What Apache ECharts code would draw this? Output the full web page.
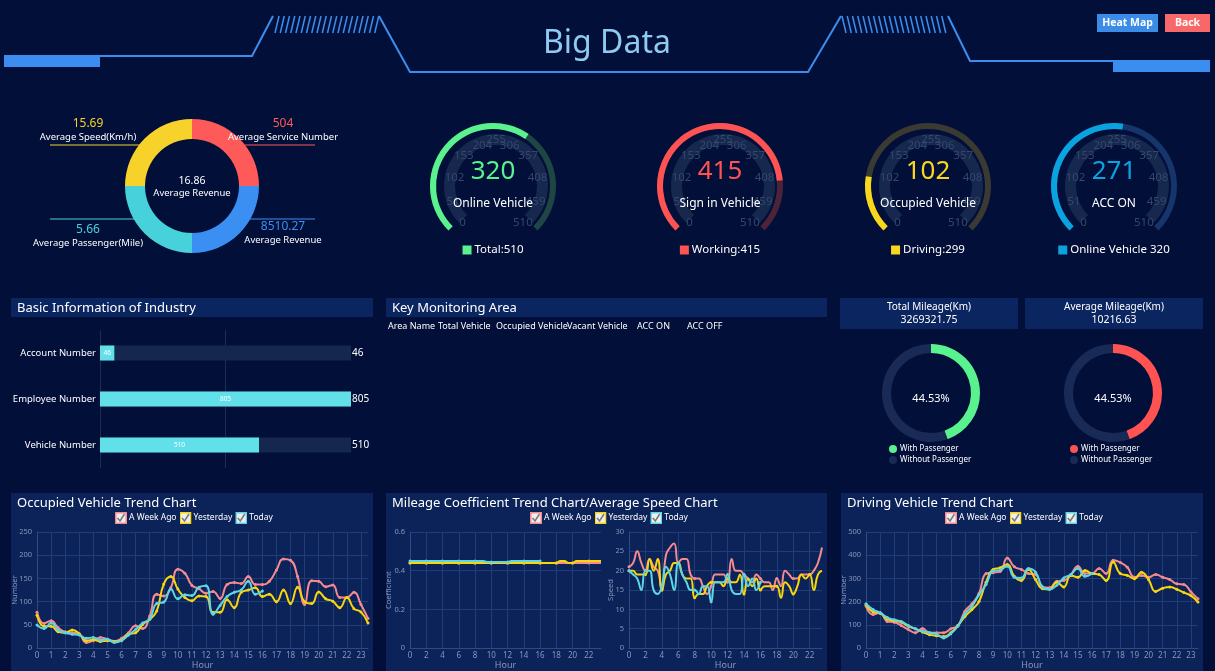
<!DOCTYPE html>
<html>
<head>
<meta charset="utf-8">
<title>Big Data</title>
<script src="https://cdn.jsdelivr.net/npm/echarts@6/dist/echarts.min.js"></script>
<style>
html, body { margin: 0; padding: 0; background: #020f38; }
#main { width: 1215px; height: 671px; }
</style>
</head>
<body>
<div id="main"></div>
<script>
// ---- summary ring (top left)
var summaryNames = ['Average Service Number', 'Average Revenue', 'Average Passenger(Mile)', 'Average Speed(Km/h)'];
var summaryValues = [504, 8510.27, 5.66, 15.69];
var summaryShares = [1, 1, 1, 1];
var centerValue = 16.86;
var centerName = 'Average Revenue';

// ---- gauges
var gaugeNames = ['Online Vehicle', 'Sign in Vehicle', 'Occupied Vehicle', 'ACC ON'];
var gaugeValues = [320, 415, 102, 271];
var gaugeMax = 510;
var gaugeLegends = ['Total:510', 'Working:415', 'Driving:299', 'Online Vehicle 320'];

// ---- basic information of industry
var industryNames = ['Account Number', 'Employee Number', 'Vehicle Number'];
var industryValues = [46, 805, 510];

// ---- key monitoring area
var monitorColumns = ['Area Name', 'Total Vehicle', 'Occupied Vehicle', 'Vacant Vehicle', 'ACC ON', 'ACC OFF'];

// ---- mileage
var mileageTitles = ['Total Mileage(Km)', 'Average Mileage(Km)'];
var mileageValues = ['3269321.75', '10216.63'];
var passengerRates = [44.53, 44.53];
var passengerNames = ['With Passenger', 'Without Passenger'];

// ---- trends
var hours = ['0','0.5','1','1.5','2','2.5','3','3.5','4','4.5','5','5.5','6','6.5','7','7.5','8','8.5','9','9.5',
  '10','10.5','11','11.5','12','12.5','13','13.5','14','14.5','15','15.5','16','16.5','17','17.5','18','18.5','19','19.5',
  '20','20.5','21','21.5','22','22.5','23','23.5'];
var trendNames = ['A Week Ago', 'Yesterday', 'Today'];

var occWeek = [77,53,59,44,35,33,30,12,16,23,19,15,21,33,48,42,69,116,112,130,170,161,135,128,118,122,107,137,141,139,154,137,137,144,168,192,189,154,94,145,144,132,136,109,109,120,94,64];
var occYesterday = [71,47,47,35,33,39,31,16,18,14,16,14,17,30,33,51,62,80,138,154,127,109,102,112,111,77,77,104,87,120,125,130,111,116,100,125,96,131,100,96,121,106,101,87,109,85,78,54];
var occToday = [50,42,54,39,33,30,28,21,23,17,19,12,16,28,40,54,62,96,99,127,106,115,113,131,134,73,92,111,120,125,144,116,123];

var coefWeek = [0.44,0.44,0.44,0.44,0.44,0.44,0.44,0.44,0.44,0.44,0.44,0.44,0.44,0.44,0.44,0.44,0.44,0.44,0.44,0.44,0.44,0.44,0.44,0.44,
  0.44,0.44,0.44,0.44,0.44,0.44,0.44,0.44,0.44,0.44,0.44,0.44,0.44,0.44,0.44,0.44,0.44,0.44,0.44,0.44,0.44,0.44,0.44,0.44];
var coefYesterday = [0.44,0.44,0.44,0.44,0.44,0.44,0.44,0.44,0.44,0.44,0.44,0.44,0.44,0.44,0.44,0.44,0.44,0.44,0.44,0.44,0.44,0.44,0.44,0.44,
  0.44,0.44,0.44,0.44,0.44,0.44,0.44,0.44,0.44,0.44,0.44,0.44,0.44,0.45,0.45,0.44,0.44,0.45,0.45,0.45,0.45,0.45,0.45,0.45];
var coefToday = [0.45,0.45,0.45,0.45,0.45,0.45,0.45,0.45,0.45,0.45,0.45,0.45,0.45,0.45,0.45,0.45,0.45,0.45,0.45,0.445,0.445,0.445,0.445,0.445,
  0.445,0.45,0.45,0.45,0.45,0.45,0.45,0.45,0.45];

var spdWeek = [21,22,25,22,20,23,21,20,15,24,26,27,22,23,23,19,18,18,16,14,16,19,19,19,17,23,20,20,19,18,17,19,18,17,17,15,18,16,20,19,18,18,19,19,19,20,22,26];
var spdYesterday = [20,20,19,19,19,23,20,23,15,19,20,22,22,19,18,18,13,14,14,16,17,17,17,16,18,17,17,19,14,18,16,18,15,16,16,16,16,13,17,16,14,16,19,18,19,15,19,20];
var spdToday = [20,19,18,15,20,20,15,14,16,21,19,15,22,19,17,15,15,14,16,16,12,17,17,17,19,15,14,14,19,16,18,15,17];

var drvWeek = [181,145,152,115,111,97,80,66,84,66,66,66,83,97,159,191,235,321,325,330,388,350,339,321,317,263,260,288,291,317,353,321,321,343,321,378,369,348,305,313,305,317,305,295,277,274,242,212];
var drvYesterday = [188,156,150,125,118,111,94,83,69,58,53,50,66,97,136,166,201,284,339,346,360,309,291,339,295,256,253,284,263,313,305,334,321,317,291,371,321,313,299,327,295,244,258,263,253,239,226,198];
var drvToday = [191,166,152,132,122,115,97,83,73,66,60,44,62,94,147,180,230,274,332,337,353,305,302,343,327,263,253,271,302,317,343,309,321];

// ---- colours
var summaryColors = ['#ff5a5a', '#3b8ff3', '#47d1da', '#f7d22a'];
var gaugeColors = ['#5af28e', '#ff5353', '#f9d71c', '#0aa3e0'];
var gaugeDim = ['#1e4744', '#4c2339', '#3a3a33', '#15356b'];
var trendColors = ['#f58a91', '#f7d60e', '#5ed6e3'];
var ringColors = ['#5af28e', '#ff5353'];
var lineBlue = '#3b8ef0';
var font = '"Noto Sans", sans-serif';

var chart = echarts.init(document.getElementById('main'));
var graphic = [];

function txt(x, y, text, size, color, align, weight) {
  graphic.push({
    type: 'text', x: x, y: y, z: 5,
    style: { text: text, fill: color || '#fff', fontSize: size, fontFamily: font,
      fontWeight: weight || 'normal', align: align || 'left', verticalAlign: 'middle' }
  });
}
function box(x, y, w, h, fill) {
  graphic.push({ type: 'rect', z: -10, shape: { x: x, y: y, width: w, height: h }, style: { fill: fill } });
}
function seg(points, color, width) {
  graphic.push({ type: 'polyline', z: -5, shape: { points: points }, style: { stroke: color, lineWidth: width, fill: null } });
}

// header decoration
box(4, 55, 96, 12, lineBlue);
box(1113, 60, 97, 12, lineBlue);
seg([[100, 56], [252, 56], [273, 16]], lineBlue, 2);
seg([[379, 16], [410, 72], [808, 72], [841, 16]], lineBlue, 2);
seg([[948, 16], [970, 61], [1113, 61]], lineBlue, 2);
for (var i = 0; i < 20; i++) {
  seg([[275 + i * 5.25, 33], [279 + i * 5.25, 16]], lineBlue, 1.5);
  seg([[842 + i * 5.25, 16], [846 + i * 5.25, 33]], lineBlue, 1.5);
}
txt(607, 44, 'Big Data', 32, '#8fcaf2', 'center');
box(1097, 14, 61, 18, '#3a8ce6');
box(1165, 14, 45, 18, '#f86868');
txt(1127.5, 23, 'Heat Map', 10.5, '#fff', 'center', 'bold');
txt(1187.5, 23, 'Back', 10.5, '#fff', 'center', 'bold');

// summary ring labels
var summaryLabelPos = [[283, 124], [283, 227], [88, 230], [88, 124]];
var summaryLinePos = [[[245, 145], [315, 145]], [[248, 219], [315, 219]], [[50, 219], [136, 219]], [[50, 145], [140, 145]]];
summaryNames.forEach(function (n, k) {
  var p = summaryLabelPos[k];
  txt(p[0], p[1], String(summaryValues[k]), 12, summaryColors[k], 'center');
  txt(p[0], p[1] + 13, n, 9.5, '#fff', 'center');
  seg(summaryLinePos[k], summaryColors[k], 1);
});
txt(192, 181, String(centerValue), 10.5, '#fff', 'center');
txt(192, 193, centerName, 9.5, '#fff', 'center');

// gauge legends
var gaugeX = [493, 720, 928, 1114];
gaugeLegends.forEach(function (t, k) {
  graphic.push({
    type: 'text', x: gaugeX[k], y: 250, z: 5,
    style: {
      text: '{sq|}' + ' ' + t, fill: '#fff', fontSize: 11.5, fontFamily: font, align: 'center', verticalAlign: 'middle',
      rich: { sq: { width: 9, height: 9, backgroundColor: gaugeColors[k] } }
    }
  });
});

// middle panels
box(11, 298, 362, 19, '#0b2560');
box(386, 298, 441, 19, '#0b2560');
txt(17, 308, 'Basic Information of Industry', 13, '#fff');
txt(392, 308, 'Key Monitoring Area', 13, '#fff');
var monitorX = [388, 438, 496, 567, 637, 687];
monitorColumns.forEach(function (c, k) { txt(monitorX[k], 326, c, 9, '#fff'); });

var mileageX = [840, 1025];
mileageTitles.forEach(function (t, k) {
  box(mileageX[k], 298, 178, 31, '#0b2560');
  txt(mileageX[k] + 89, 307, t, 10, '#fff', 'center');
  txt(mileageX[k] + 89, 320, mileageValues[k], 10.5, '#fff', 'center');
});
var ringX = [931, 1113];
passengerRates.forEach(function (r, k) { txt(ringX[k], 399, r.toFixed(2) + '%', 11, '#fff', 'center'); });

// bottom panels
box(11, 493, 362, 178, '#0c2359');
box(386, 493, 441, 178, '#0c2359');
box(841, 493, 362, 178, '#0c2359');
txt(17, 503, 'Occupied Vehicle Trend Chart', 13, '#fff');
txt(392, 503, 'Mileage Coefficient Trend Chart/Average Speed Chart', 13, '#fff');
txt(847, 503, 'Driving Vehicle Trend Chart', 13, '#fff');

function checkIcon(color) {
  var svg = "<svg xmlns='http://www.w3.org/2000/svg' width='24' height='24' viewBox='0 0 24 24'>" +
    "<rect x='1.5' y='1.5' width='21' height='21' fill='#eeeeee' stroke='" + color + "' stroke-width='3'/>" +
    "<path d='M5 12 L10 18 L19 4' fill='none' stroke='#7a7a7a' stroke-width='3'/></svg>";
  return 'image://data:image/svg+xml;charset=utf-8,' + encodeURIComponent(svg);
}
function trendLegend(left) {
  return {
    left: left, top: 512, itemWidth: 12, itemHeight: 12, itemGap: 3, padding: 0,
    textStyle: { color: '#fff', fontSize: 8.5, fontFamily: font, padding: [0, 0, 0, -3] },
    data: trendNames.map(function (n, k) { return { name: n, icon: checkIcon(trendColors[k]) }; })
  };
}
function ringLegend(left, suffix) {
  return {
    orient: 'vertical', left: left, top: 445, icon: 'circle', itemWidth: 8, itemHeight: 8, itemGap: 3, padding: 0,
    textStyle: { color: '#fff', fontSize: 8, fontFamily: font, padding: [0, 0, 0, -2] },
    formatter: function (n) { return n.trim(); },
    data: passengerNames.map(function (n) { return n + suffix; })
  };
}

var axisGray = '#8796bb';
var gridLine = '#213d78';
function hourAxis(gi, interval) {
  return {
    type: 'category', gridIndex: gi, data: hours, boundaryGap: false,
    name: 'Hour', nameLocation: 'middle', nameGap: 11, nameTextStyle: { color: axisGray, fontSize: 9 },
    axisLine: { lineStyle: { color: '#2e4a86' } }, axisTick: { show: false },
    axisLabel: { color: axisGray, fontSize: 8, interval: interval, margin: 4 },
    splitLine: { show: true, interval: interval, lineStyle: { color: gridLine } }
  };
}
function valueAxis(gi, name, max, interval, gap) {
  return {
    type: 'value', gridIndex: gi, min: 0, max: max, interval: interval,
    name: name, nameLocation: 'middle', nameGap: gap, nameRotate: 90, nameMoveOverlap: false,
    nameTextStyle: { color: axisGray, fontSize: 7.5 },
    axisLine: { show: true, lineStyle: { color: '#2e4a86' } }, axisTick: { show: false },
    axisLabel: { color: axisGray, fontSize: 7.5, margin: 5 },
    splitLine: { lineStyle: { color: gridLine } }
  };
}
function trend(name, data, k, gi) {
  return {
    type: 'line', name: name, data: data, xAxisIndex: gi, yAxisIndex: gi, smooth: true,
    symbol: 'circle', symbolSize: 3, lineStyle: { width: 2, color: trendColors[k] },
    itemStyle: { color: trendColors[k] }, z: 3 + k
  };
}

var series = [];

// summary pie
series.push({
  type: 'pie', center: [192, 186], radius: [47, 67], startAngle: 90, clockwise: true, silent: true,
  label: { show: false }, labelLine: { show: false },
  data: summaryShares.map(function (v, k) {
    return { value: v, name: summaryNames[k] + k, itemStyle: { color: summaryColors[k] } };
  })
});

// gauges
gaugeValues.forEach(function (v, k) {
  series.push({
    type: 'gauge', center: [gaugeX[k] + 3, 186], radius: 52, startAngle: 225, endAngle: -45,
    min: 0, max: gaugeMax, splitNumber: 10, silent: true,
    axisLine: { lineStyle: { width: 11, color: [[1, '#16284e']] } },
    pointer: { show: false }, axisTick: { show: false },
    splitLine: { show: false, length: 0, distance: 0 },
    axisLabel: { distance: 0, color: '#34486f', fontSize: 11.5, fontFamily: font },
    title: { show: false }, detail: { show: false }, data: [{ value: 0 }]
  });
  series.push({
    type: 'gauge', center: [gaugeX[k], 186], radius: 63, startAngle: 225, endAngle: -45,
    min: 0, max: gaugeMax, silent: true,
    axisLine: { lineStyle: { width: 6, color: [[1, gaugeDim[k]]] } },
    progress: { show: true, width: 6, itemStyle: { color: gaugeColors[k] } },
    pointer: { show: false }, axisTick: { show: false }, splitLine: { show: false }, axisLabel: { show: false },
    title: { offsetCenter: [0, 18], color: '#fff', fontSize: 12, fontFamily: font },
    detail: { offsetCenter: [0, -14], color: gaugeColors[k], fontSize: 26, fontWeight: 'normal', fontFamily: font, formatter: '{value}' },
    data: [{ value: v, name: gaugeNames[k] }]
  });
});

// industry bars
var industryMax = Math.max.apply(null, industryValues);
series.push({
  type: 'bar', xAxisIndex: 0, yAxisIndex: 0, barWidth: 15, barGap: '-100%', silent: true,
  itemStyle: { color: '#15264f' },
  label: { show: true, position: 'right', distance: 1, color: '#fff', fontSize: 10, fontFamily: font,
    formatter: function (p) { return industryValues[p.dataIndex]; } },
  data: industryValues.map(function () { return industryMax; })
});
series.push({
  type: 'bar', xAxisIndex: 0, yAxisIndex: 0, barWidth: 15, barGap: '-100%', silent: true,
  itemStyle: { color: '#62e0ea' },
  label: { show: true, position: 'inside', color: '#fff', fontSize: 6.5, fontFamily: font },
  data: industryValues
});

// passenger rings
passengerRates.forEach(function (r, k) {
  var suffix = k === 0 ? '' : ' ';
  series.push({
    type: 'pie', center: [ringX[k], 393], radius: [40, 49], startAngle: 90, clockwise: true, silent: true,
    label: { show: false }, labelLine: { show: false },
    data: [
      { value: r, name: passengerNames[0] + suffix, itemStyle: { color: ringColors[k] } },
      { value: +(100 - r).toFixed(2), name: passengerNames[1] + suffix, itemStyle: { color: '#1a2a57' } }
    ]
  });
});

// trend lines
[[occWeek, occYesterday, occToday, 1], [coefWeek, coefYesterday, coefToday, 2],
 [spdWeek, spdYesterday, spdToday, 3], [drvWeek, drvYesterday, drvToday, 4]].forEach(function (set) {
  for (var k = 0; k < 3; k++) series.push(trend(trendNames[k], set[k], k, set[3]));
});

chart.setOption({
  backgroundColor: '#020f38',
  textStyle: { fontFamily: font },
  animation: false,
  graphic: graphic,
  legend: [trendLegend(115), trendLegend(530), trendLegend(945), ringLegend(889, ''), ringLegend(1070, ' ')],
  grid: [
    { left: 100, top: 330, width: 251, height: 138 },
    { left: 37, top: 532, width: 331, height: 121 },
    { left: 410, top: 532, width: 191, height: 121 },
    { left: 629, top: 532, width: 193, height: 121 },
    { left: 866, top: 532, width: 332, height: 121 }
  ],
  xAxis: [
    { type: 'value', gridIndex: 0, min: 0, max: industryMax, interval: industryMax / 2,
      axisLabel: { show: false }, axisLine: { show: false }, axisTick: { show: false },
      splitLine: { show: true, showMaxLine: false, lineStyle: { color: '#1b2c55' } } },
    hourAxis(1, 1), hourAxis(2, 3), hourAxis(3, 3), hourAxis(4, 1)
  ],
  yAxis: [
    { type: 'category', gridIndex: 0, data: industryNames, inverse: true,
      axisLine: { show: false }, axisTick: { show: false },
      axisLabel: { color: '#fff', fontSize: 9.5, margin: 4 } },
    valueAxis(1, 'Number', 250, 50, 18),
    valueAxis(2, 'Coefficient', 0.6, 0.2, 17),
    valueAxis(3, 'Speed', 30, 5, 14),
    valueAxis(4, 'Number', 500, 100, 18)
  ],
  series: series
});
</script>
</body>
</html>
